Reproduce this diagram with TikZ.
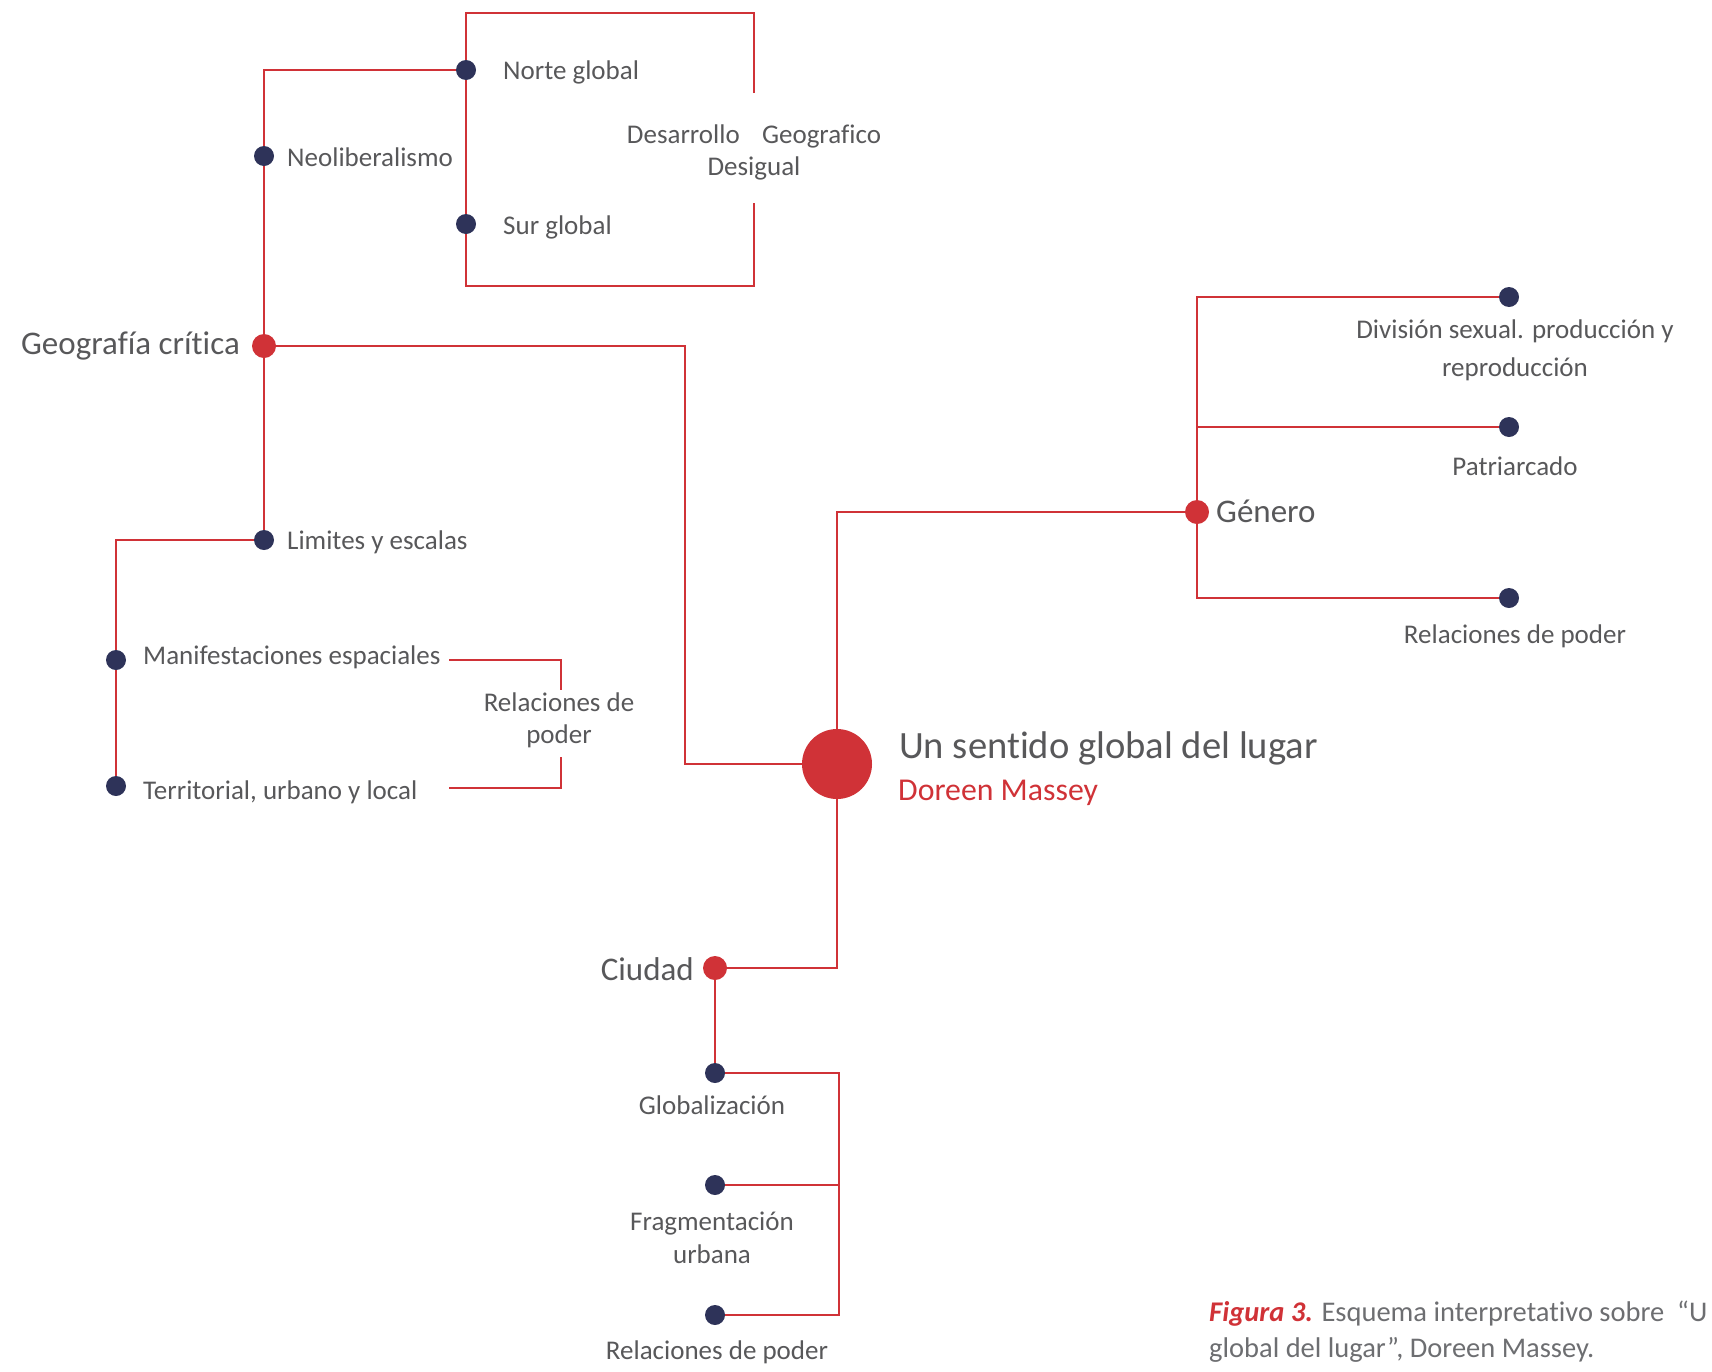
\documentclass[tikz,border=0pt]{standalone}
\usepackage{fontspec}
\setmainfont{Carlito}[Ligatures={NoCommon}]
\definecolor{mred}{HTML}{D03237}
\definecolor{mnavy}{HTML}{2E3359}
\definecolor{mgray}{HTML}{58585A}
\definecolor{capgray}{HTML}{6D6E71}
\pgfdeclarelayer{bg}
\pgfsetlayers{bg,main}
\tikzset{
  conn/.style={draw=mred, line width=2.9pt},
  bdot/.style={circle, fill=mnavy, inner sep=0pt, minimum size=20pt},
  rdot/.style={circle, fill=mred, inner sep=0pt, minimum size=24pt},
  bigdot/.style={circle, fill=mred, inner sep=0pt, minimum size=70pt},
  lbl/.style={text=mgray, inner sep=0pt, font=\fontsize{27}{33}\selectfont, text height=20pt, text depth=2pt},
  mlbl/.style={text=mgray, inner sep=0pt, align=center, font=\fontsize{27}{32}\selectfont},
  big/.style={text=mgray, inner sep=0pt, font=\fontsize{33}{38}\selectfont, text height=22pt, text depth=2pt},
}
\begin{document}
\begin{tikzpicture}[x=1pt,y=-1pt]
\useasboundingbox (0,0) rectangle (1712,1371);

% dots
\node[bdot] (norte) at (466,70) {};
\node[bdot] (neo) at (264,156) {};
\node[bdot] (sur) at (466,224) {};
\node[rdot] (geo) at (264,346) {};
\node[bdot] (lim) at (264,540) {};
\node[bdot] (man) at (116,660) {};
\node[bdot] (ter) at (116,786) {};
\node[bigdot] (main) at (837,764) {};
\node[rdot] (gen) at (1197,512) {};
\node[bdot] (div) at (1509,297) {};
\node[bdot] (pat) at (1509,427) {};
\node[bdot] (relg) at (1509,598) {};
\node[rdot] (ciu) at (715,968) {};
\node[bdot] (glo) at (715,1073) {};
\node[bdot] (fra) at (715,1185) {};
\node[bdot] (relc) at (715,1315) {};

% helper coordinates
\coordinate (bxTL) at (466,13);
\coordinate (bxTR) at (754,13);
\coordinate (bxRt) at (754,93);
\coordinate (bxBL) at (466,286);
\coordinate (bxBR) at (754,286);
\coordinate (bxRb) at (754,203);
\coordinate (gm) at (685,346);
\coordinate (cbus) at (839,1315);
\coordinate (rb1) at (449,660);
\coordinate (rb2) at (561,660);
\coordinate (rb3) at (561,690);
\coordinate (rb4) at (561,757);
\coordinate (rb5) at (561,788);
\coordinate (rb6) at (449,788);

\begin{pgfonlayer}{bg}
\draw[conn] (norte.center) -| (lim.center);
\draw[conn] (bxRt) -- (bxTR) -- (bxTL) -- (bxBL) -- (bxBR) -- (bxRb);
\draw[conn] (geo.center) -- (gm) |- (main.center);
\draw[conn] (lim.center) -| (ter.center);
\draw[conn] (rb1) -- (rb2) -- (rb3);
\draw[conn] (rb4) -- (rb5) -- (rb6);
\draw[conn] (main.center) |- (gen.center);
\draw[conn] (div.center) -| (gen.center);
\draw[conn] (relg.center) -| (gen.center);
\draw[conn] (pat.center) -- (pat.center -| gen.center);
\draw[conn] (main.center) |- (ciu.center);
\draw[conn] (ciu.center) -- (glo.center);
\draw[conn] (glo.center) -| (cbus) -- (relc.center);
\draw[conn] (fra.center) -- (fra.center -| cbus);
\end{pgfonlayer}

% labels
\node[lbl, anchor=west] (tnorte) at (503,70) {Norte global};
\node[lbl, anchor=west] (tneo) at (287,157) {Neoliberalismo};
\node[lbl, anchor=west] (tsur) at (503,225) {Sur global};
\node[mlbl] (tdes) at (754,152) {Desarrollo\hspace{0.6em} Geografico\\Desigual};
\node[big, anchor=east] (tgeo) at (240,344) {Geografía crítica};
\node[lbl, anchor=west] (tlim) at (287,540) {Limites y escalas};
\node[lbl, anchor=west] (tman) at (143,655) {Manifestaciones espaciales};
\node[lbl, anchor=west] (tter) at (143,790) {Territorial, urbano y local};
\node[mlbl] (trel) at (559,720) {Relaciones de\\poder};
\node[text=mgray, inner sep=0pt, anchor=west, font=\fontsize{38.6}{44}\selectfont] (tmain) at (899,748) {Un sentido global del lugar};
\node[text=mred, inner sep=0pt, anchor=west, font=\fontsize{31.8}{36}\selectfont] (tmas) at (898,793) {Doreen Massey};
\node[big, anchor=west] (tgen) at (1216,512) {Género};
\node[mlbl, font=\fontsize{27}{38}\selectfont] (tdiv) at (1515,350) {División sexual. producción y\\reproducción};
\node[lbl] (tpat) at (1515,466) {Patriarcado};
\node[lbl] (trelg) at (1515,634) {Relaciones de poder};
\node[big, anchor=east] (tciu) at (694,970) {Ciudad};
\node[lbl] (tglo) at (712,1105) {Globalización};
\node[mlbl, font=\fontsize{27}{33}\selectfont] (tfra) at (712,1238) {Fragmentación\\urbana};
\node[lbl] (trelc) at (717,1350) {Relaciones de poder};

% caption
\node[text=capgray, inner sep=0pt, anchor=north west, align=left, font=\fontsize{28.5}{36}\selectfont] (cap) at (1209,1301)
  {{\color{mred}\bfseries\itshape Figura 3.} Esquema interpretativo sobre\ \ “U\\global del lugar”, Doreen Massey.};
\end{tikzpicture}
\end{document}
